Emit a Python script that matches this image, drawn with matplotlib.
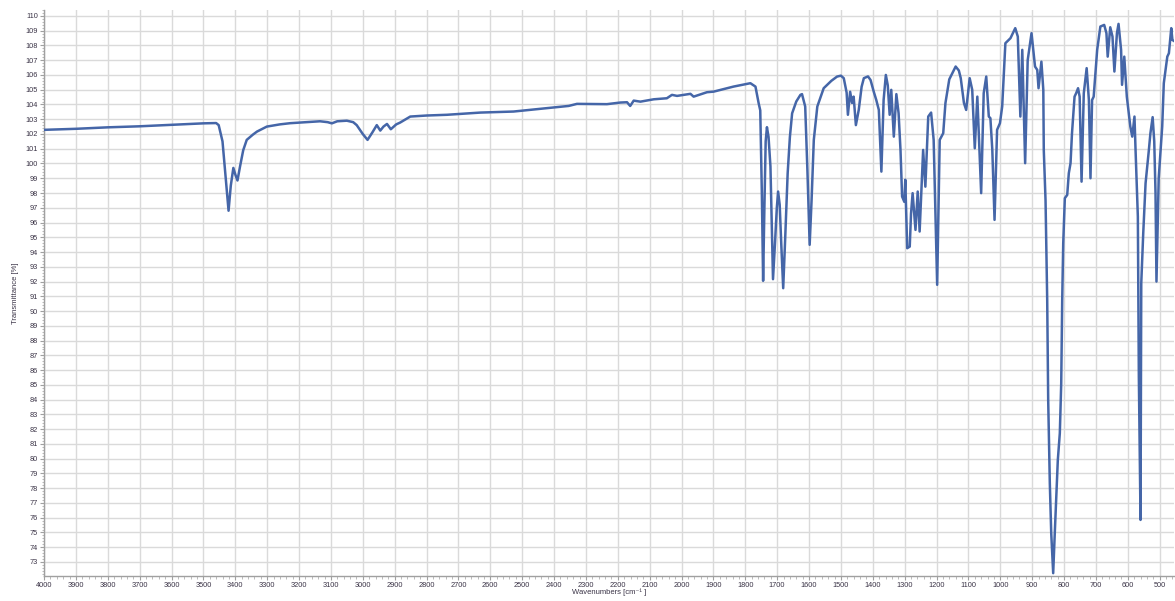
import matplotlib
matplotlib.use("Agg")
import matplotlib.pyplot as plt
from matplotlib.ticker import MultipleLocator

# Wavenumbers (cm^-1) and transmittance (%)
wavenumber = [
    4000, 3900, 3800, 3700, 3600, 3500, 3460, 3452, 3440, 3430, 3421, 3414, 3406, 3399,
    3393, 3385, 3375, 3364, 3345, 3332, 3301, 3260, 3228, 3180, 3134, 3110, 3097, 3080,
    3050, 3030, 3019, 3000, 2985, 2970, 2956, 2945, 2935, 2924, 2912, 2895, 2883, 2851,
    2800, 2736, 2631, 2527, 2422, 2354, 2328, 2234, 2192, 2171, 2161, 2150, 2129, 2087,
    2046, 2030, 2014, 1972, 1962, 1920, 1899, 1837, 1784, 1768, 1758, 1753, 1748, 1744,
    1740, 1736, 1732, 1727, 1721, 1717, 1713, 1707, 1701, 1697, 1692, 1687, 1681, 1675,
    1667, 1660, 1653, 1640, 1627, 1622, 1612, 1605, 1598, 1592, 1585, 1574, 1554, 1530,
    1512, 1500, 1491, 1482, 1478, 1471, 1465, 1460, 1453, 1444, 1435, 1428, 1415, 1407,
    1397, 1389, 1381, 1373, 1366, 1359, 1353, 1347, 1342, 1334, 1326, 1319, 1313, 1308,
    1301, 1298, 1292, 1284, 1280, 1275, 1266, 1259, 1253, 1242, 1235, 1226, 1217, 1209,
    1198, 1190, 1179, 1172, 1160, 1140, 1130, 1124, 1114, 1107, 1096, 1088, 1080, 1072,
    1060, 1052, 1044, 1036, 1031, 1025, 1018, 1010, 1001, 994, 984, 968, 953, 945,
    937, 931, 922, 914, 902, 891, 884, 880, 871, 865, 863.5, 858, 852.8, 849.7,
    844.6, 840.2, 834, 829, 819.5, 813.2, 808.8, 805.7, 802.5, 797.5, 790, 785, 779.6, 775,
    767, 762, 756, 751, 745, 738, 729, 722, 717, 712, 707, 696, 686, 674,
    667, 663, 655, 648, 642, 634, 629, 621, 618, 611, 603, 592, 586, 579,
    575.6, 568.4, 565.3, 560, 557.7, 551.5, 544.2, 533.9, 529, 522, 517, 513, 510, 506,
    503, 492, 487, 476, 471, 463.6, 460, 455,
]
transmittance = [
    102.28, 102.35, 102.45, 102.52, 102.62, 102.72, 102.74, 102.6, 101.5, 99.0, 96.8, 98.5, 99.7, 99.2,
    98.85, 99.8, 100.9, 101.6, 101.95, 102.16, 102.5, 102.65, 102.73, 102.8, 102.86, 102.8, 102.72, 102.86,
    102.9, 102.8, 102.6, 102.0, 101.6, 102.1, 102.6, 102.23, 102.5, 102.68, 102.32, 102.65, 102.77, 103.18,
    103.25, 103.3, 103.45, 103.52, 103.75, 103.9, 104.04, 104.02, 104.13, 104.15, 103.9, 104.26, 104.19, 104.35,
    104.42, 104.65, 104.58, 104.72, 104.53, 104.83, 104.87, 105.21, 105.44, 105.21, 104.08, 103.6, 98.0, 92.05,
    97.0, 101.5, 102.46, 101.8, 99.8, 96.0, 92.16, 94.5, 97.0, 98.1, 97.2, 94.5, 91.55, 94.8,
    99.34, 101.8, 103.4, 104.2, 104.65, 104.7, 103.86, 99.5, 94.49, 97.5, 101.6, 103.86, 105.1, 105.6,
    105.89, 105.95, 105.78, 104.8, 103.3, 104.86, 104.1, 104.53, 102.6, 103.63, 105.2, 105.78, 105.9, 105.66,
    104.87, 104.3, 103.63, 99.45, 104.3, 106.0, 105.3, 103.3, 104.99, 101.82, 104.7, 103.4, 100.9, 97.76,
    97.4, 98.9, 94.26, 94.37, 96.6, 97.99, 95.5, 98.1, 95.39, 100.92, 98.43, 103.18, 103.45, 101.6,
    91.78, 101.6, 102.05, 104.1, 105.7, 106.57, 106.3, 105.78, 104.1, 103.63, 105.78, 104.99, 101.03, 104.53,
    97.99, 104.76, 105.89, 103.18, 103.07, 100.92, 96.18, 102.28, 102.73, 103.86, 108.15, 108.49, 109.17, 108.6,
    103.18, 107.7, 100.02, 107.0, 108.83, 106.57, 106.34, 105.1, 106.9, 104.99, 100.9, 97.5, 90.76, 83.98,
    78.34, 74.97, 72.24, 74.97, 79.9, 81.73, 85.1, 90.76, 94.6, 97.65, 97.87, 99.34, 100.02, 102.05,
    104.53, 104.76, 105.1, 104.53, 98.77, 104.76, 106.46, 104.3, 99.0, 104.3, 104.53, 107.7, 109.28, 109.39,
    108.83, 107.24, 109.23, 108.6, 106.23, 108.83, 109.46, 107.7, 105.33, 107.24, 104.53, 102.5, 101.82, 103.18,
    100.9, 96.4, 85.56, 75.85, 91.9, 95.28, 98.66, 100.9, 102.05, 103.14, 101.5, 98.0, 92.0, 96.0,
    99.0, 102.5, 105.44, 107.24, 107.47, 109.17, 108.37, 108.3,
]

x_major = list(range(4000, 499, -100))
y_major = list(range(73, 111))

plt.rcParams['font.family'] = ['Liberation Sans', 'DejaVu Sans']

fig = plt.figure(figsize=(11.75, 6.01), dpi=100)
ax = fig.add_axes([44 / 1175, 25 / 601, 1130 / 1175, 566 / 601])

ax.plot(wavenumber, transmittance, color='#4566a8', lw=1.8, solid_joinstyle='round', zorder=3)

ax.set_xlim(4000, 455)
ax.set_ylim(72.05, 110.4)
ax.set_xticks(x_major)
ax.set_yticks(y_major)
ax.xaxis.set_minor_locator(MultipleLocator(20))
ax.yaxis.set_minor_locator(MultipleLocator(0.2))

ax.grid(True, which='major', color='#dadada', lw=1.0, zorder=0)
for s in ['top', 'right']:
    ax.spines[s].set_visible(False)
for s in ['left', 'bottom']:
    ax.spines[s].set_color('#a0a0a0')
    ax.spines[s].set_linewidth(1.0)

ax.tick_params(which='major', length=3.0, width=0.8, color='#a0a0a0',
               labelsize=5.3, labelcolor='#3a3346', pad=1.2)
ax.tick_params(which='minor', length=1.8, width=0.6, color='#b0b0b0')

ax.set_xlabel('Wavenumbers [cm\u207b\u00b9 ]', fontsize=5.5, color='#3a3346')
ax.set_ylabel('Transmittance [%]', fontsize=5.5, color='#3a3346')
ax.xaxis.set_label_coords(0.5, -0.0215)
ax.yaxis.set_label_coords(-0.022, 0.5)

fig.savefig('out.png', dpi=100)
